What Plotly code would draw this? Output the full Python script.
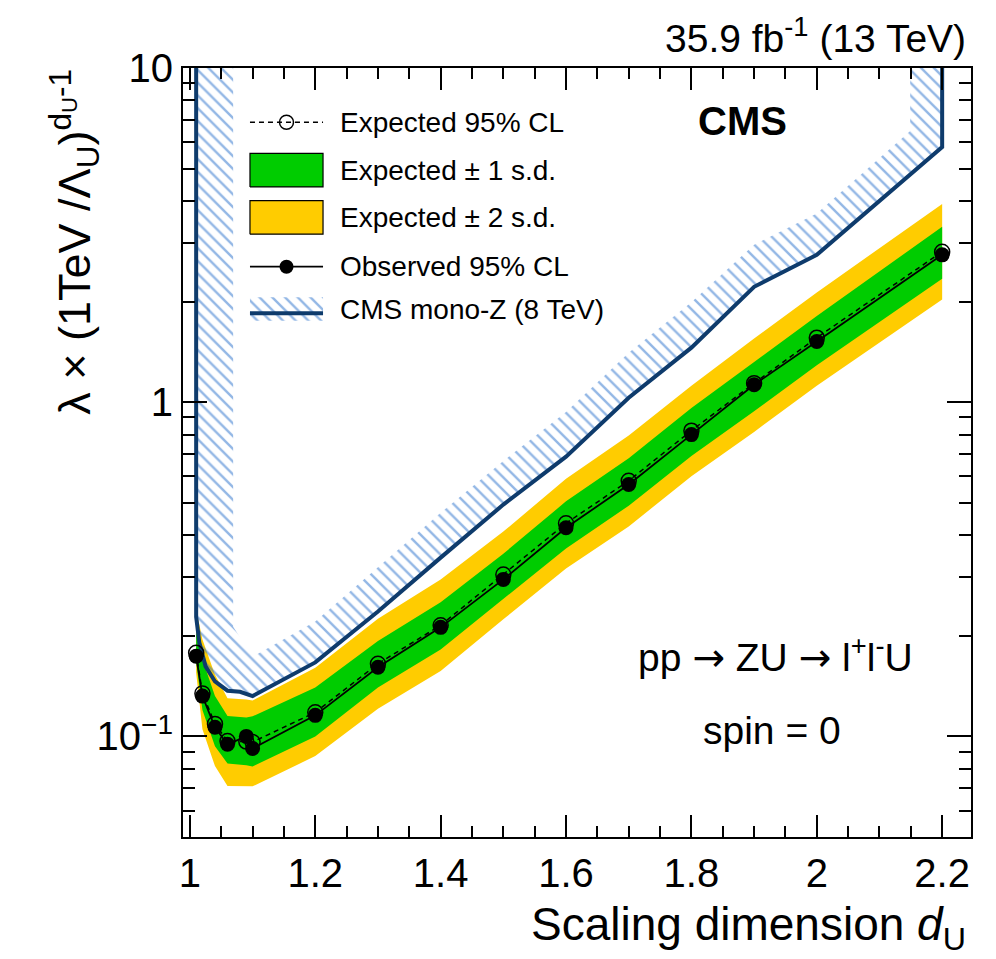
import numpy as np
import plotly.graph_objects as go

# ---------------- data ----------------
d_u = [1.01, 1.02, 1.04, 1.06, 1.09, 1.10, 1.2, 1.3, 1.4, 1.5, 1.6, 1.7, 1.8, 1.9, 2.0, 2.2]
expected = [0.178, 0.1345, 0.109, 0.0968, 0.0965, 0.0962, 0.118, 0.165, 0.215, 0.305, 0.434, 0.582, 0.822, 1.14, 1.56, 2.82]
observed = [0.1738, 0.132, 0.1065, 0.0947, 0.100, 0.092, 0.1156, 0.161, 0.212, 0.295, 0.421, 0.567, 0.80, 1.128, 1.52, 2.76]
exp_plus1 = [0.205, 0.170, 0.132, 0.115, 0.114, 0.1148, 0.140, 0.193, 0.252, 0.352, 0.505, 0.68, 0.96, 1.32, 1.81, 3.35]
exp_minus1 = [0.167, 0.120, 0.0935, 0.083, 0.082, 0.0813, 0.100, 0.140, 0.182, 0.257, 0.365, 0.49, 0.69, 0.94, 1.29, 2.34]
exp_plus2 = [0.240, 0.195, 0.153, 0.130, 0.129, 0.128, 0.1605, 0.225, 0.295, 0.41, 0.59, 0.795, 1.12, 1.55, 2.13, 3.92]
exp_minus2 = [0.155, 0.105, 0.0815, 0.071, 0.071, 0.0709, 0.0873, 0.121, 0.157, 0.224, 0.318, 0.425, 0.60, 0.815, 1.12, 2.03]

# CMS mono-Z (8 TeV) limit curve and the inner edge of its hatched band
monoz_x = [1.01, 1.01, 1.015, 1.025, 1.04, 1.06, 1.08, 1.10, 1.2, 1.3, 1.4, 1.5, 1.6, 1.7, 1.8, 1.9, 2.0, 2.2, 2.2]
monoz_y = [30, 0.228, 0.191, 0.162, 0.146, 0.137, 0.136, 0.132, 0.1665, 0.2365, 0.3427, 0.4939, 0.6873, 1.031, 1.456, 2.214, 2.76, 5.80, 30]
hatch_x = [1.069, 1.069, 1.10, 1.2, 1.3, 1.4, 1.5, 1.6, 1.7, 1.8, 1.9, 2.0, 2.149, 2.149]
hatch_y = [30, 0.213, 0.173, 0.2207, 0.3205, 0.4667, 0.6672, 0.935, 1.406, 1.99, 2.96, 3.67, 6.48, 30]

x_tickvals = [1.0, 1.2, 1.4, 1.6, 1.8, 2.0, 2.2]
x_ticktext = ["1", "1.2", "1.4", "1.6", "1.8", "2", "2.2"]
y_tickvals = [0.1, 1, 10]
y_ticktext = ["10<sup>\u22121</sup>", "1", "10"]
y_minor = [m * 10.0 ** e for e in (-2, -1, 0) for m in range(2, 10)]

# ---------------- styles ----------------
FONT = "Liberation Sans, Arial, Helvetica, sans-serif"
YELLOW = "#FFCC00"
GREEN = "#00CC00"
NAVY = "#0E3B6C"
HATCH = "#2870CC"
HATCH_PATTERN = dict(shape="\\", fgcolor=HATCH, bgcolor="rgba(255,255,255,0)",
                     size=9, solidity=0.27)

fig = go.Figure()

def band(lo, hi, color, name):
    return go.Scatter(x=d_u + d_u[::-1], y=hi + lo[::-1], fill="toself",
                      fillcolor=color, line=dict(width=0), mode="lines",
                      hoverinfo="skip", showlegend=False, name=name)

fig.add_trace(band(exp_minus2, exp_plus2, YELLOW, "Expected \u00b1 2 s.d."))
fig.add_trace(band(exp_minus1, exp_plus1, GREEN, "Expected \u00b1 1 s.d."))

# hatched band of the 8 TeV result
fig.add_trace(go.Scatter(
    x=monoz_x + hatch_x[::-1], y=monoz_y + hatch_y[::-1], fill="toself",
    fillcolor="rgba(0,0,0,0)", mode="lines", line=dict(width=0),
    fillpattern=HATCH_PATTERN, hoverinfo="skip", showlegend=False))
fig.add_trace(go.Scatter(x=monoz_x, y=monoz_y, mode="lines",
                         line=dict(color=NAVY, width=4), showlegend=False))

fig.add_trace(go.Scatter(x=d_u, y=expected, mode="lines+markers",
                         line=dict(color="black", width=1.5, dash="5px,4px"),
                         marker=dict(symbol="circle-open", size=15, color="black",
                                     line=dict(width=1.5)),
                         showlegend=False))
fig.add_trace(go.Scatter(x=d_u, y=observed, mode="lines+markers",
                         line=dict(color="black", width=1.8),
                         marker=dict(symbol="circle", size=15, color="black"),
                         showlegend=False))

# ---------------- legend (drawn on an overlay axis in plot-fraction units) ----------------
kx0, kx1 = 0.085, 0.1777
kxm = (kx0 + kx1) / 2
tx = 0.1967
rows = [0.9294, 0.8672, 0.8058, 0.7416, 0.6866]
box_h = 0.0437
legend_labels = ["Expected 95% CL", "Expected \u00b1 1 s.d.", "Expected \u00b1 2 s.d.",
                 "Observed 95% CL", "CMS mono-Z (8 TeV)"]

fig.add_trace(go.Scatter(x=[kx0, kx1], y=[rows[0]] * 2, xaxis="x2", yaxis="y2",
                         mode="lines", line=dict(color="black", width=1.5, dash="5px,4px"),
                         showlegend=False, hoverinfo="skip"))
fig.add_trace(go.Scatter(x=[kxm], y=[rows[0]], xaxis="x2", yaxis="y2", mode="markers",
                         marker=dict(symbol="circle-open", size=14, color="black",
                                     line=dict(width=1.5)),
                         showlegend=False, hoverinfo="skip"))
for r, col in ((rows[1], GREEN), (rows[2], YELLOW)):
    fig.add_trace(go.Scatter(x=[kx0, kx1, kx1, kx0, kx0],
                             y=[r - box_h / 2, r - box_h / 2, r + box_h / 2, r + box_h / 2, r - box_h / 2],
                             xaxis="x2", yaxis="y2", fill="toself", fillcolor=col,
                             mode="lines", line=dict(color="black", width=1.2),
                             showlegend=False, hoverinfo="skip"))
fig.add_trace(go.Scatter(x=[kx0, kx1], y=[rows[3]] * 2, xaxis="x2", yaxis="y2",
                         mode="lines", line=dict(color="black", width=1.8),
                         showlegend=False, hoverinfo="skip"))
fig.add_trace(go.Scatter(x=[kxm], y=[rows[3]], xaxis="x2", yaxis="y2", mode="markers",
                         marker=dict(symbol="circle", size=14, color="black"),
                         showlegend=False, hoverinfo="skip"))
hb0, hb1 = rows[4] - 0.0152, rows[4] + 0.0152
fig.add_trace(go.Scatter(x=[kx0, kx1, kx1, kx0, kx0], y=[hb0, hb0, hb1, hb1, hb0],
                         xaxis="x2", yaxis="y2", fill="toself", fillcolor="rgba(0,0,0,0)",
                         fillpattern=HATCH_PATTERN,
                         mode="lines", line=dict(width=0), showlegend=False, hoverinfo="skip"))
fig.add_trace(go.Scatter(x=[kx0, kx1], y=[rows[4] - 0.0056] * 2, xaxis="x2", yaxis="y2",
                         mode="lines", line=dict(color=NAVY, width=4),
                         showlegend=False, hoverinfo="skip"))

annotations = []
for r, lab in zip(rows, legend_labels):
    annotations.append(dict(x=tx, y=r, xref="paper", yref="paper", text=lab,
                            showarrow=False, xanchor="left", yanchor="middle",
                            font=dict(size=28, family=FONT, color="black")))

ARROW = '<span style="font-family:DejaVu Sans">\u2192</span>'
annotations += [
    dict(x=0.9962, y=1.042, xref="paper", yref="paper",
         text="35.9 fb<sup>-1</sup> (13 TeV)", showarrow=False,
         xanchor="right", yanchor="middle", font=dict(size=39, family=FONT)),
    dict(x=0.7094, y=0.9311, xref="paper", yref="paper", text="<b>CMS</b>",
         showarrow=False, xanchor="center", yanchor="middle", font=dict(size=40, family=FONT)),
    dict(x=0.7513, y=0.2367, xref="paper", yref="paper",
         text="pp " + ARROW + " ZU " + ARROW + " l<sup>+</sup>l<sup>-</sup>U", showarrow=False,
         xanchor="center", yanchor="middle", font=dict(size=39, family=FONT)),
    dict(x=0.7475, y=0.1391, xref="paper", yref="paper", text="spin = 0",
         showarrow=False, xanchor="center", yanchor="middle", font=dict(size=39, family=FONT)),
    dict(x=0.9962, y=-0.1183, xref="paper", yref="paper",
         text="Scaling dimension <i>d</i><sub>U</sub>", showarrow=False,
         xanchor="right", yanchor="middle", font=dict(size=46, family=FONT)),
    dict(x=-0.138, y=1.002, xref="paper", yref="paper", textangle=-90,
         text="\u03bb \u00d7 (1TeV /\u039b<sub>U</sub>)<sup>d<sub>U</sub>-1</sup>",
         showarrow=False, xanchor="center", yanchor="top", font=dict(size=45, family=FONT)),
]

axis_common = dict(showline=True, linewidth=2, linecolor="black", mirror="allticks",
                   ticks="inside", tickwidth=1.5, tickcolor="black", showgrid=False,
                   zeroline=False, tickfont=dict(size=40, family=FONT, color="black"))

fig.update_layout(
    width=996, height=959,
    margin=dict(l=183, r=25, t=68, b=122),
    plot_bgcolor="white", paper_bgcolor="white",
    font=dict(family=FONT, color="black"),
    showlegend=False,
    xaxis=dict(range=[0.989, 2.246], tickmode="array", tickvals=x_tickvals,
               ticktext=x_ticktext, ticklen=22,
               minor=dict(ticks="inside", ticklen=11, tickwidth=1.5, tickcolor="black",
                          tickmode="linear", tick0=1.0, dtick=0.05, showgrid=False),
               **axis_common),
    yaxis=dict(type="log", range=[np.log10(0.05), 1.0], tickmode="array",
               tickvals=y_tickvals, ticktext=y_ticktext, ticklen=24,
               minor=dict(ticks="inside", ticklen=12, tickwidth=1.5, tickcolor="black",
                          tickmode="array", tickvals=y_minor, showgrid=False),
               **axis_common),
    xaxis2=dict(overlaying="x", anchor="y2", range=[0, 1], visible=False),
    yaxis2=dict(overlaying="y", anchor="x2", range=[0, 1], visible=False),
    annotations=annotations,
)

fig.write_html("out.html")
